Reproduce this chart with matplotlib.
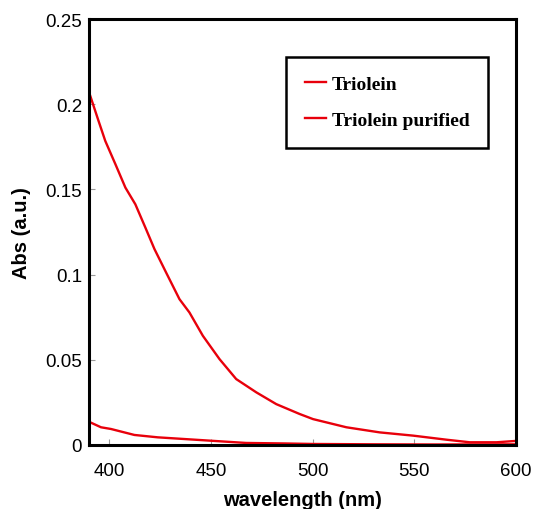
import matplotlib
matplotlib.use("Agg")
import matplotlib.pyplot as plt
from matplotlib.ticker import FuncFormatter

# wavelength (nm) and absorbance
wl_triolein = [390.6, 394.7, 398.0, 403.0, 407.9, 412.8, 417.7, 422.2, 427.9, 434.5,
               439.4, 446.0, 454.2, 462.4, 472.3, 482.1, 493.6, 500.2, 516.6, 533.0,
               549.4, 565.9, 577.3, 590.5, 600.0]
abs_triolein = [0.205, 0.1902, 0.1785, 0.1648, 0.1511, 0.1413, 0.1277, 0.115, 0.1013, 0.0856,
                0.0778, 0.0641, 0.0504, 0.0387, 0.0309, 0.024, 0.0182, 0.0152, 0.0104, 0.0074,
                0.0055, 0.0031, 0.0016, 0.0016, 0.0024]

wl_purified = [390.6, 395.9, 400.8, 412.3, 423.8, 450.1, 467.3, 486.2, 500.2, 530.0, 560.0, 600.0]
abs_purified = [0.0133, 0.0104, 0.0094, 0.0059, 0.0045, 0.0025, 0.0012, 0.0009, 0.0006, 0.0004,
                0.0003, 0.0004]

xticks = [400, 450, 500, 550, 600]
yticks = [0, 0.05, 0.1, 0.15, 0.2, 0.25]

fig = plt.figure(figsize=(5.33, 5.10), dpi=100)
ax = fig.add_axes([0.167, 0.1255, 0.801, 0.835])

ax.plot(wl_triolein, abs_triolein, color="#e8000b", lw=1.7, label="Triolein")
ax.plot(wl_purified, abs_purified, color="#e8000b", lw=1.7, label="Triolein purified")

ax.set_xlim(390, 600)
ax.set_ylim(0, 0.25)
ax.set_xticks(xticks)
ax.set_yticks(yticks)
ax.yaxis.set_major_formatter(FuncFormatter(lambda v, p: "%g" % v))
ax.tick_params(direction="in", length=4, width=0.8, color="#999999",
               labelsize=13.5, pad=5)
ax.tick_params(axis="x", pad=12)
for lab in ax.get_xticklabels() + ax.get_yticklabels():
    lab.set_fontfamily("Liberation Sans")
for s in ax.spines.values():
    s.set_linewidth(2.2)

ax.set_xlabel("wavelength (nm)", fontsize=14.5, fontweight="bold",
              fontfamily="Liberation Sans", labelpad=8)
ax.set_ylabel("Abs (a.u.)", fontsize=14.5, fontweight="bold",
              fontfamily="Liberation Sans", labelpad=10)

leg = ax.legend(loc="upper right", bbox_to_anchor=(488 / 533, 1 - 58 / 510),
                bbox_transform=fig.transFigure, fancybox=False, framealpha=1,
                edgecolor="black", borderpad=0.95, labelspacing=0.95,
                handlelength=1.1, handletextpad=0.3, borderaxespad=0,
                prop={"family": "Liberation Serif", "weight": "bold", "size": 14})
leg.get_frame().set_linewidth(1.8)

fig.savefig("out.png", dpi=100)
